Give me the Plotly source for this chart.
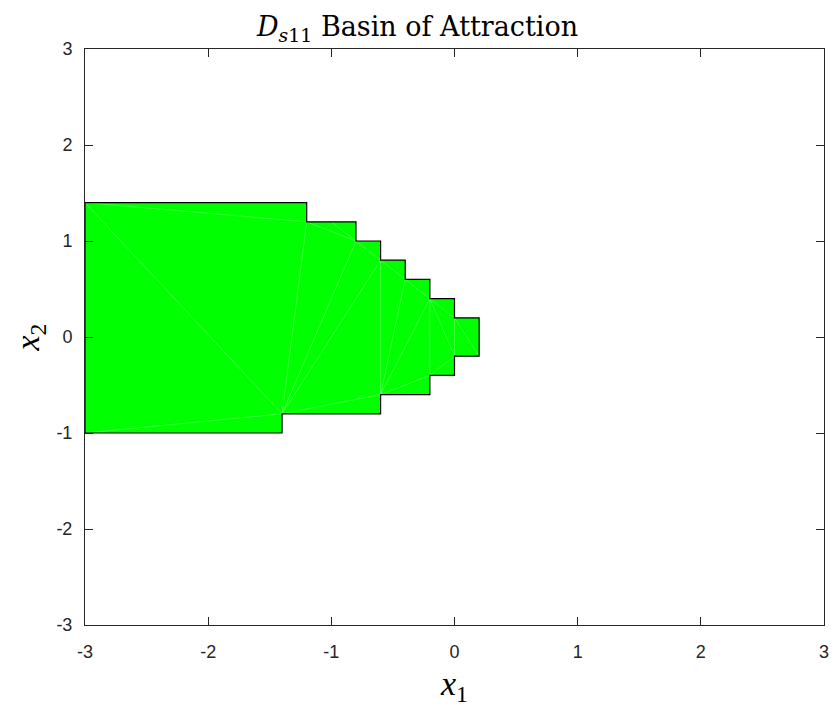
import plotly.graph_objects as go

# Basin boundary polygon vertices
poly_x = [-3.0, -1.2, -1.2, -1.0, -0.8, -0.8, -0.6, -0.6, -0.4, -0.4, -0.2, -0.2, 0.0, 0.0, 0.2, 0.2,
          0.0, 0.0, -0.2, -0.2, -0.6, -0.6, -1.4, -1.4, -3.0, -3.0]
poly_y = [1.4, 1.4, 1.2, 1.2, 1.2, 1.0, 1.0, 0.8, 0.8, 0.6, 0.6, 0.4, 0.4, 0.2, 0.2, -0.2,
          -0.2, -0.4, -0.4, -0.6, -0.6, -0.8, -0.8, -1.0, -1.0, 1.4]

# Internal triangulation edges (x0, y0, x1, y1)
tri_edges = [
    (-3.0, 1.4, -1.2, 1.2), (-3.0, 1.4, -1.4, -0.8), (-3.0, -1.0, -1.4, -0.8),
    (-1.4, -0.8, -1.2, 1.2), (-1.2, 1.2, -0.8, 1.0), (-1.0, 1.2, -0.8, 1.0),
    (-1.4, -0.8, -0.8, 1.0), (-1.4, -0.8, -0.6, 0.8), (-1.4, -0.8, -0.6, -0.6),
    (-0.8, 1.0, -0.6, 0.8), (-0.6, 0.8, -0.6, -0.6), (-0.6, 0.8, -0.2, 0.4),
    (-0.4, 0.6, -0.6, -0.6), (-0.6, -0.6, -0.2, 0.4), (-0.2, 0.4, -0.2, -0.4),
    (-0.2, -0.4, -0.6, -0.6), (-0.2, 0.4, 0.0, 0.2), (-0.2, 0.4, 0.0, -0.2),
    (0.0, 0.2, 0.0, -0.2), (0.0, 0.2, 0.2, -0.2), (0.0, -0.2, -0.2, -0.4),
]

tick_vals = [-3, -2, -1, 0, 1, 2, 3]
tick_text = ["-3", "-2", "-1", "0", "1", "2", "3"]

ex, ey = [], []
for x0, y0, x1, y1 in tri_edges:
    ex += [x0, x1, None]
    ey += [y0, y1, None]

fig = go.Figure()
fig.add_trace(go.Scatter(x=poly_x, y=poly_y, fill="toself", fillcolor="#00FF00",
                         mode="lines", line=dict(width=0, color="#00FF00"),
                         hoverinfo="skip", showlegend=False))
fig.add_trace(go.Scatter(x=ex, y=ey, mode="lines",
                         line=dict(width=0.6, color="rgba(255,255,255,0.4)"),
                         hoverinfo="skip", showlegend=False))
fig.add_trace(go.Scatter(x=poly_x, y=poly_y, mode="lines",
                         line=dict(width=1.2, color="black"),
                         hoverinfo="skip", showlegend=False))

serif = "Liberation Serif, DejaVu Serif, serif"
axis_common = dict(
    range=[-3, 3], tickmode="array", tickvals=tick_vals, ticktext=tick_text,
    showgrid=False, zeroline=False, showline=True, linecolor="#262626", linewidth=1,
    mirror="ticks", ticks="inside", ticklen=8, tickwidth=1, tickcolor="#262626",
    tickfont=dict(family="Liberation Sans, Arial, sans-serif", size=18, color="#262626"),
)

fig.update_layout(
    width=835, height=710,
    margin=dict(l=85, r=6, t=49, b=85),
    plot_bgcolor="white", paper_bgcolor="white",
    title=dict(text="<i>D</i><sub><i>s</i>11</sub> Basin of Attraction",
               x=0.5, xanchor="center", y=0.962, yanchor="middle",
               font=dict(family="DejaVu Serif, serif", size=27, color="black")),
    xaxis=dict(**axis_common, ticklabelstandoff=10,
               title=dict(text="<i>x</i><sub>1</sub>", standoff=10,
                          font=dict(family=serif, size=34, color="black"))),
    yaxis=dict(**axis_common, ticklabelstandoff=8,
               title=dict(text="<i>x</i><sub>2</sub>", standoff=6,
                          font=dict(family=serif, size=34, color="black"))),
)

fig.write_html("out.html")
